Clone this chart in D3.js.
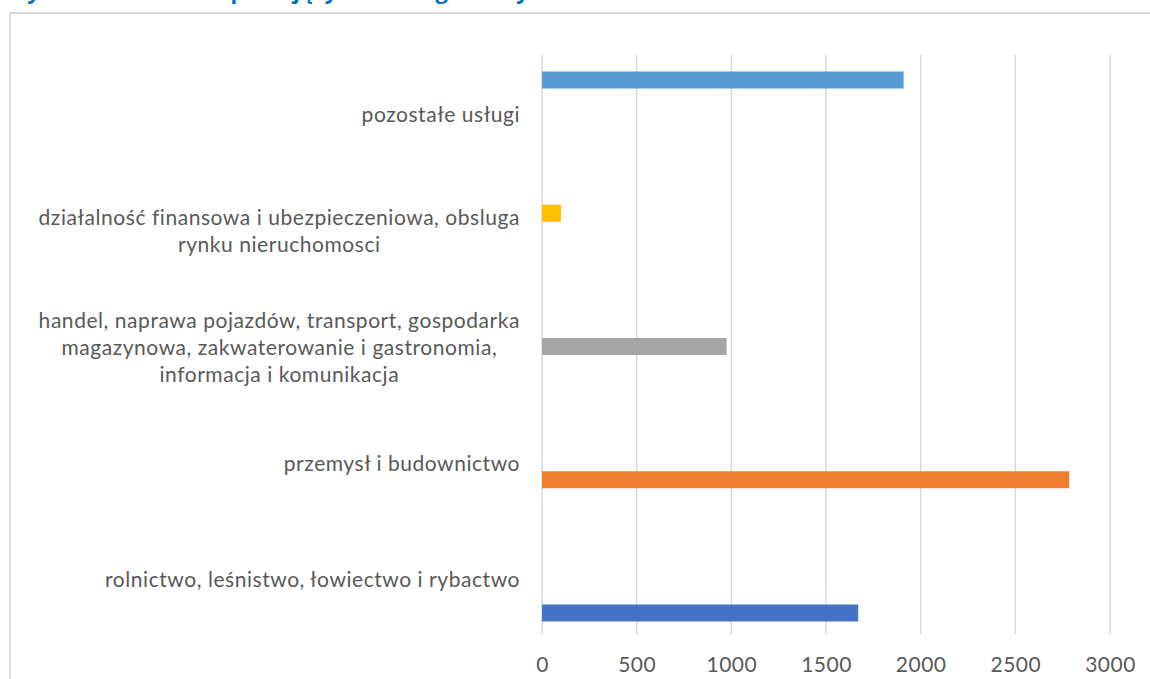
<!DOCTYPE html>
<html>
<head>
<meta charset="utf-8">
<script src="https://cdn.jsdelivr.net/npm/d3@7"></script>
<style>
  html, body { margin: 0; padding: 0; background: #fff; }
  svg { display: block; }
</style>
</head>
<body>
<svg id="chart" width="1150" height="679"></svg>
<script>
// ---- data ----
const categories = [
  "pozostałe usługi",
  "działalność finansowa i ubezpieczeniowa, obsluga\nrynku nieruchomosci",
  "handel, naprawa pojazdów, transport, gospodarka\nmagazynowa, zakwaterowanie i gastronomia,\ninformacja i komunikacja",
  "przemysł i budownictwo",
  "rolnictwo, leśnistwo, łowiectwo i rybactwo"
];
const values = [1910, 100, 975, 2785, 1670];
const colors = ["#5B9BD5", "#FFC000", "#A5A5A5", "#ED7D31", "#4472C4"];
const tickValues = [0, 500, 1000, 1500, 2000, 2500, 3000];
const titleText = "Wykres 7. Struktura pracujących według branży";

// ---- layout ----
const svg = d3.select("#chart");
const W = 1150, H = 679;
const plot = { left: 542, right: 1110, top: 55, bottom: 634 };

const x = d3.scaleLinear().domain([0, 3000]).range([plot.left, plot.right]);
const barY = d3.scalePoint().domain(categories).range([80, 613]);
const labelY = d3.scalePoint().domain(categories).range([115, 580]);
const barH = 17;

// title (cropped at top, only descenders visible)
svg.append("text")
  .attr("x", 6).attr("y", -1)
  .attr("fill", "#0070C0")
  .attr("font-family", "'Open Sans', sans-serif")
  .attr("font-weight", "bold")
  .attr("font-size", 22)
  .text(titleText);

// frame
svg.append("line").attr("x1", 10).attr("x2", W).attr("y1", 13).attr("y2", 13)
  .attr("stroke", "#d9d9d9").attr("stroke-width", 2);
svg.append("line").attr("x1", 10).attr("x2", 10).attr("y1", 13).attr("y2", H)
  .attr("stroke", "#d9d9d9").attr("stroke-width", 2);

// gridlines
svg.append("g").selectAll("line").data(tickValues).join("line")
  .attr("x1", d => x(d)).attr("x2", d => x(d))
  .attr("y1", plot.top).attr("y2", plot.bottom)
  .attr("stroke", "#d9d9d9").attr("stroke-width", 1.5);

// x axis tick labels
const xAxis = d3.axisBottom(x).tickValues(tickValues).tickSize(0).tickPadding(0).tickFormat(d3.format("d"));
const gx = svg.append("g").attr("transform", `translate(0,${plot.bottom + 23})`).call(xAxis);
gx.select(".domain").remove();
gx.selectAll("text")
  .attr("fill", "#595959")
  .attr("font-family", "Lato, sans-serif")
  .attr("font-size", 21)
  .attr("letter-spacing", 0.5);

// bars
svg.append("g").selectAll("rect").data(categories).join("rect")
  .attr("x", x(0))
  .attr("y", d => barY(d) - barH / 2)
  .attr("width", (d, i) => x(values[i]) - x(0))
  .attr("height", barH)
  .attr("fill", (d, i) => colors[i]);

// category labels
const lineH = 27;
const lg = svg.append("g");
categories.forEach(c => {
  const lines = c.split("\n");
  const t = lg.append("text")
    .attr("text-anchor", "middle")
    .attr("fill", "#595959")
    .attr("font-family", "Lato, sans-serif")
    .attr("font-size", 21)
    .attr("letter-spacing", 0.55);
  lines.forEach((ln, j) => {
    t.append("tspan")
      .attr("x", 0)
      .attr("y", labelY(c) + (j - (lines.length - 1) / 2) * lineH)
      .attr("dy", "0.35em")
      .text(ln);
  });
  const bb = t.node().getBBox();
  t.attr("transform", `translate(${520 - bb.width / 2},0)`);
});
</script>
</body>
</html>
